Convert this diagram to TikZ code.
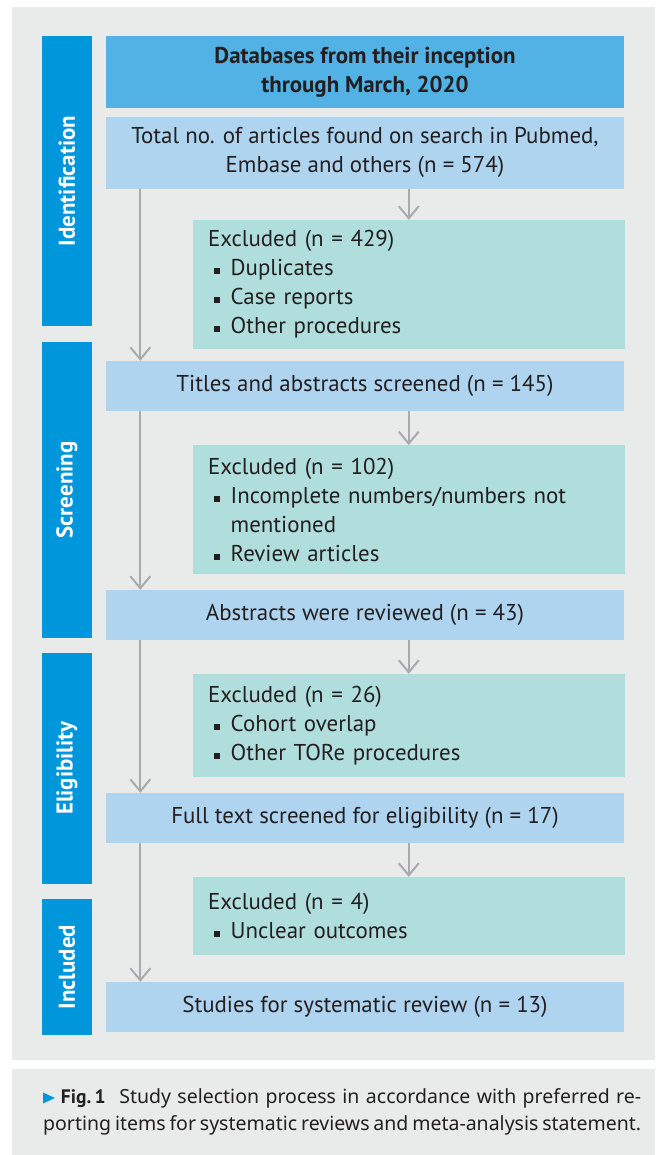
\documentclass[tikz,border=0pt]{standalone}
\usepackage{fontspec}
\setmainfont{PT Sans}
\newfontfamily\capfont{Noto Sans}
\newfontfamily\capbold{PT Sans}
\usetikzlibrary{arrows.meta}
\definecolor{panel}{HTML}{E9EBEB}
\definecolor{side}{HTML}{0096DB}
\definecolor{topblue}{HTML}{52B2E5}
\definecolor{mainblue}{HTML}{AED4F0}
\definecolor{exteal}{HTML}{B0DEDC}
\definecolor{arrowc}{HTML}{A8AAAC}
\definecolor{txt}{HTML}{231F20}
\newcommand{\bitem}[1]{\par\hangindent=22.7pt\hangafter=1\noindent\makebox[22.7pt][l]{\hspace{6pt}\rule[1.5pt]{6pt}{6pt}}#1}
\begin{document}
\begin{tikzpicture}[x=1pt,y=-1pt,
  every node/.style={text=txt},
  bodyfont/.style={font=\fontsize{22.9}{29}\selectfont},
  sidebox/.style={fill=side, minimum height=50pt, inner sep=0pt, rotate=90, text=white, font=\fontsize{22.9}{29}\selectfont\bfseries},
  flowbox/.style={fill=mainblue, minimum width=518pt, inner sep=0pt, align=center, bodyfont},
  exclbox/.style={fill=exteal, minimum width=431.5pt, text width=401.5pt, inner xsep=15pt, inner ysep=0pt, align=left, bodyfont},
  arr/.style={draw=arrowc, line width=2pt, -{Straight Barb[length=12pt,width=20pt]}},
  capline/.style={anchor=base west, inner sep=0pt, font=\capfont\fontsize{19.5}{27}\selectfont}
]
\useasboundingbox (0,0) rectangle (660,1155);
\fill[white] (0,0) rectangle (660,1155);
\fill[panel] (12,7) rectangle (655,1060);
\fill[panel] (12,1069) rectangle (655,1155);

% side labels
\node[sidebox, minimum width=290pt] (lid) at (67,181) {Identification};
\node[sidebox, minimum width=295.7pt] (lsc) at (67,489.85) {Screening};
\node[sidebox, minimum width=230.7pt] (lel) at (67,768.35) {Eligibility};
\node[sidebox, minimum width=135.7pt] (lin) at (67,966.85) {Included};

% main flow
\node[flowbox, fill=topblue, minimum height=71.7pt, font=\fontsize{22.9}{29}\selectfont\bfseries] (db) at (365,71.85) {Databases from their inception\\through March, 2020};
\node[flowbox, minimum height=71.7pt] (total) at (365,152.85) {Total no. of articles found on search in Pubmed,\\Embase and others (n = 574)};
\node[flowbox, minimum height=50pt] (titles) at (365,386) {Titles and abstracts screened (n = 145)};
\node[flowbox, minimum height=50pt] (abstracts) at (365,615) {Abstracts were reviewed (n = 43)};
\node[flowbox, minimum height=50pt] (fulltext) at (365,818) {Full text screened for eligibility (n = 17)};
\node[flowbox, minimum height=50pt] (studies) at (365,1007) {Studies for systematic review (n = 13)};

% excluded boxes
\node[exclbox, minimum height=128.7pt] (ex1) at (408.75,284.35) {Excluded (n = 429)\bitem{Duplicates}\bitem{Case reports}\bitem{Other procedures}};
\node[exclbox, minimum height=128.4pt] (ex2) at (408.75,509.5) {Excluded (n = 102)\bitem{Incomplete numbers/numbers not\linebreak mentioned}\bitem{Review articles}};
\node[exclbox, minimum height=102.7pt] (ex3) at (408.75,725.35) {Excluded (n = 26)\bitem{Cohort overlap}\bitem{Other TORe procedures}};
\node[exclbox, minimum height=77.7pt] (ex4) at (408.75,915.85) {Excluded (n = 4)\bitem{Unclear outcomes}};

% connectors
\coordinate (lx) at (140.3,0);
\draw[arr] (total.south -| lx) -- (titles.north -| lx);
\draw[arr] (titles.south -| lx) -- (abstracts.north -| lx);
\draw[arr] (abstracts.south -| lx) -- (fulltext.north -| lx);
\draw[arr] (fulltext.south -| lx) -- (studies.north -| lx);
\draw[arr] (total.south -| ex1.north) -- (ex1.north);
\draw[arr] (titles.south -| ex2.north) -- (ex2.north);
\draw[arr] (abstracts.south -| ex3.north) -- (ex3.north);
\draw[arr] (fulltext.south -| ex4.north) -- (ex4.north);

% caption
\fill[side] (43,1092.5) -- (43,1103.5) -- (55,1098) -- cycle;
\node[capline] (cap1) at (43,1103) {\hbox to 598pt{\hspace*{17.7pt}{\capbold\bfseries Fig.\,1}\hspace{13.7pt}Study selection process in accordance with preferred re-}};
\node[capline] (cap2) at (43,1130) {\hbox to 598pt{porting items for systematic reviews and meta-analysis statement.}};
\end{tikzpicture}
\end{document}
